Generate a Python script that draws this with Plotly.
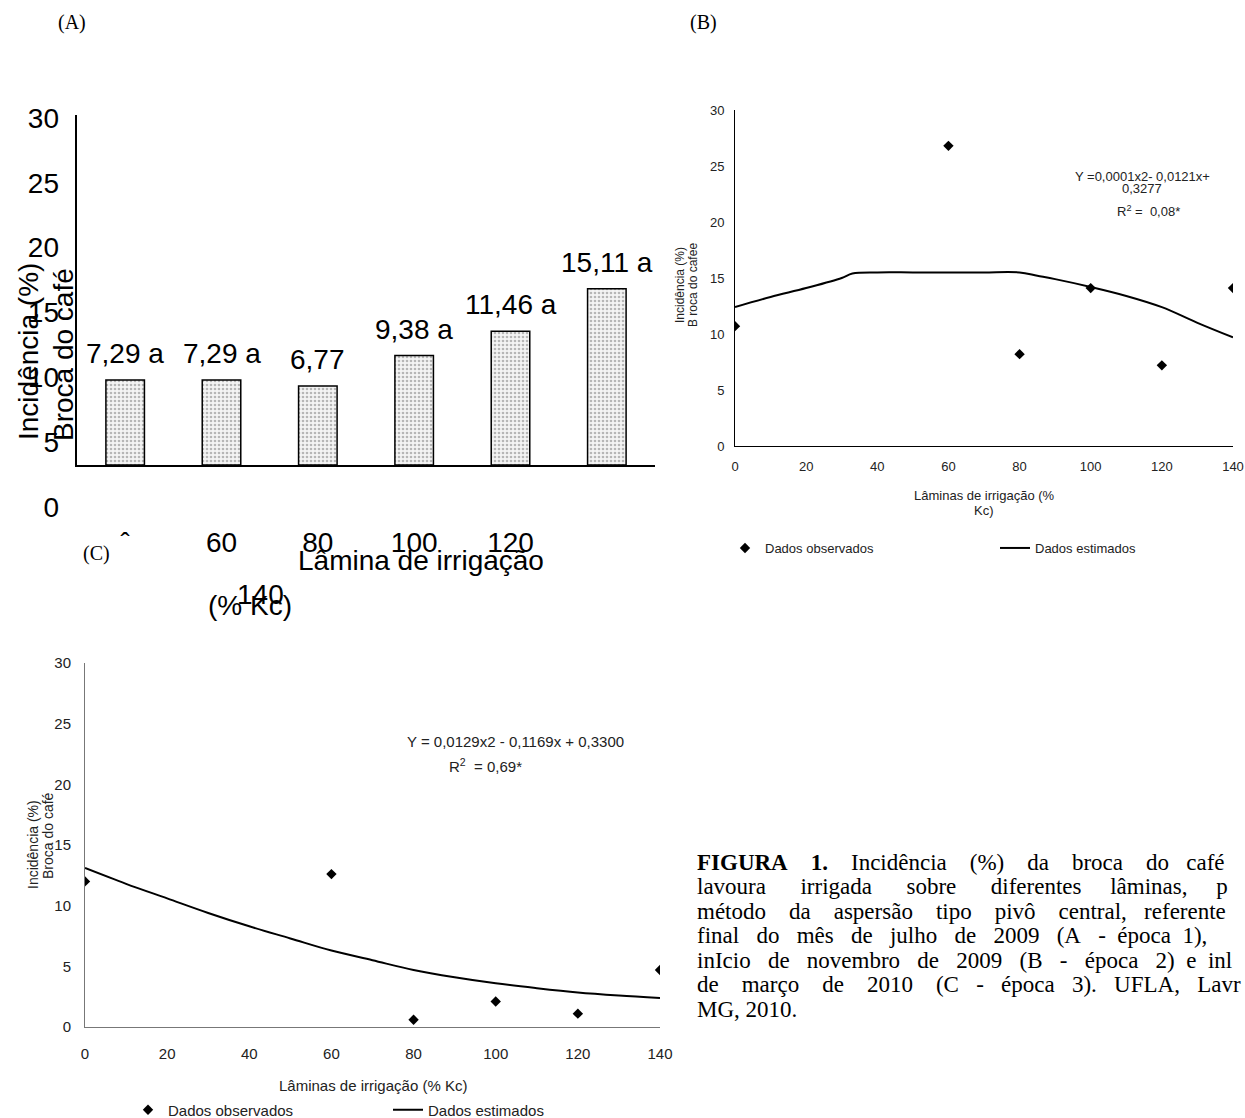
import plotly.graph_objects as go

W, H = 1245, 1118


def px(x):
    return x / W


def py(y):
    return 1 - y / H


# ---------------- data ----------------
# Panel A (bars)
a_categories = ["0", "60", "80", "100", "120", "140"]
a_values = [7.29, 7.29, 6.77, 9.38, 11.46, 15.11]
a_labels = ["7,29 a", "7,29 a", "6,77", "9,38 a", "11,46 a", "15,11 a"]
a_ticktext = ["ˆ", "60", "80", "100", "120", ""]
a_yticks = [0, 5, 10, 15, 20, 25, 30]

# Panel B (época 2)
b_x_obs = [0, 60, 80, 100, 120, 140]
b_y_obs = [10.7, 26.8, 8.2, 14.1, 7.2, 14.1]
b_x_est = [0, 10, 20, 30, 33, 40, 50, 60, 70, 80, 85, 90, 100, 110, 120, 130, 140]
b_y_est = [12.4, 13.3, 14.1, 15.0, 15.4, 15.5, 15.5, 15.5, 15.5, 15.5, 15.2, 14.9, 14.2, 13.4, 12.4, 11.0, 9.7]

# Panel C (época 3)
c_x_obs = [0, 60, 80, 100, 120, 140]
c_y_obs = [12.0, 12.6, 0.6, 2.1, 1.1, 4.7]
c_x_est = [0, 10, 20, 30, 40, 50, 60, 70, 80, 90, 100, 110, 120, 130, 140]
c_y_est = [13.1, 11.8, 10.6, 9.4, 8.3, 7.3, 6.3, 5.5, 4.7, 4.1, 3.6, 3.2, 2.85, 2.6, 2.4]

# Caption: words of each (justified) line and total number of spaces to spread
caption_words = [
    ["<b>FIGURA", "1.</b>", "Incidência", "(%)", "da", "broca", "do", "café"],
    ["lavoura", "irrigada", "sobre", "diferentes", "lâminas,", "p"],
    ["método", "da", "aspersão", "tipo", "pivô", "central,", "referente"],
    ["final", "do", "mês", "de", "julho", "de", "2009", "(A", "-", "época", "1),"],
    ["inIcio", "de", "novembro", "de", "2009", "(B", "-", "época", "2)", "e", "inl"],
    ["de", "março", "de", "2010", "(C", "-", "época", "3).", "UFLA,", "Lavr"],
    ["MG,", "2010."],
]
caption_spaces = [27, 28, 23, 28, 28, 31, 1]


def justify(words, nspaces):
    gaps = len(words) - 1
    base, extra = divmod(nspaces, gaps)
    out = words[0]
    for i, w in enumerate(words[1:]):
        n = base + (1 if i < extra else 0)
        out += "\u00a0" * n + w
    return out


SANS = "Liberation Sans, Arial, sans-serif"
SERIF = "Liberation Serif, Times New Roman, serif"
FA, FB, FC = 28, 13, 15

fig = go.Figure()

# ---------------- Panel A ----------------
fig.add_trace(go.Bar(
    x=a_categories, y=a_values, width=0.4,
    xaxis="x", yaxis="y", showlegend=False,
    marker=dict(color="#eeeeee", line=dict(color="black", width=1.5),
                pattern=dict(shape=".", fgcolor="#777777", bgcolor="#f4f4f4",
                             size=4, solidity=0.35)),
))
# empty trace for the shifted tick-label axis of panel A
fig.add_trace(go.Scatter(x=[None], y=[None], xaxis="x2", yaxis="y2",
                         showlegend=False, hoverinfo="skip"))

# ---------------- Panel B ----------------
fig.add_trace(go.Scatter(
    x=b_x_obs, y=b_y_obs, mode="markers", name="Dados observados",
    xaxis="x3", yaxis="y3", legend="legend2",
    marker=dict(symbol="diamond", size=8, color="black"),
))
fig.add_trace(go.Scatter(
    x=b_x_est, y=b_y_est, mode="lines", name="Dados estimados",
    xaxis="x3", yaxis="y3", legend="legend2",
    line=dict(color="black", width=2, shape="spline"),
))

# ---------------- Panel C ----------------
fig.add_trace(go.Scatter(
    x=c_x_obs, y=c_y_obs, mode="markers", name="Dados observados",
    xaxis="x4", yaxis="y4", legend="legend3",
    marker=dict(symbol="diamond", size=8, color="black"),
))
fig.add_trace(go.Scatter(
    x=c_x_est, y=c_y_est, mode="lines", name="Dados estimados",
    xaxis="x4", yaxis="y4", legend="legend3",
    line=dict(color="black", width=2, shape="spline"),
))

ann = []


def text_at(txt, x, y, size, family=SANS, color="black", xanchor="center",
            yanchor="middle", **kw):
    ann.append(dict(text=txt, x=px(x), y=py(y), xref="paper", yref="paper",
                    xanchor=xanchor, yanchor=yanchor, showarrow=False,
                    font=dict(family=family, size=size, color=color), **kw))


# Panel letters
text_at("(A)", 72, 22, 20, SERIF)
text_at("(B)", 704, 22, 20, SERIF)
text_at("(C)", 96, 553, 20, SERIF)

# Panel A bar value labels (category axis -> category index)
for i, (val, lab) in enumerate(zip(a_values, a_labels)):
    ann.append(dict(text=lab, x=i, y=val, xref="x", yref="y",
                    xanchor="center", yanchor="bottom",
                    yshift=9, showarrow=False,
                    font=dict(family=SANS, size=FA, color="black")))
# Panel A titles (overlapping as in the original)
text_at("Incidência (%)", 28, 352, FA, textangle=-90)
text_at("Broca do café", 63, 355, FA, textangle=-90)
text_at("Lâmina de irrigação", 421, 560, FA)
text_at("140", 260, 594, FA)
text_at("(% Kc)", 250, 605, FA)

# Panel B texts
GB = "#222"
text_at("Incidência (%)", 680, 285, 12, color=GB, textangle=-90)
text_at("B roca do cafee", 693, 285, 12, color=GB, textangle=-90)
text_at("Lâminas de irrigação (%", 984, 495, FB, color=GB)
text_at("Kc)", 984, 510, FB, color=GB)
text_at("Y =0,0001x2- 0,0121x+", 1142, 177, FB, color=GB)
text_at("0,3277", 1142, 189, FB, color=GB)
text_at("R<sup>2</sup> =  0,08*", 1148, 211, FB, color=GB)

# Panel C texts
GC = "#222"
text_at("Incidência (%)", 33, 845, 14, color=GC, textangle=-90)
text_at("Broca do café", 48, 836, 14, color=GC, textangle=-90)
text_at("Lâminas de irrigação (% Kc)", 373, 1085, FC, color=GC)
text_at("Y = 0,0129x2 - 0,1169x + 0,3300", 515, 741, FC, color=GC)
text_at("R<sup>2</sup>  = 0,69*", 485, 765, FC, color=GC)

# Caption
for i, (words, ns) in enumerate(zip(caption_words, caption_spaces)):
    text_at(justify(words, ns), 695, 862 + i * 24.5, 23, SERIF,
            xanchor="left", yanchor="middle")

fig.update_layout(
    width=W, height=H, margin=dict(l=0, r=0, t=0, b=0, autoexpand=False),
    paper_bgcolor="white", plot_bgcolor="rgba(0,0,0,0)",
    annotations=ann,
    # Panel A axes
    xaxis=dict(domain=[px(77), px(655)], anchor="y", type="category",
               categoryorder="array", categoryarray=a_categories,
               range=[-0.5, 5.5], showline=True, linecolor="black", linewidth=2,
               ticks="", tickmode="array", tickvals=a_categories, ticktext=a_ticktext,
               ticklabelstandoff=51, showgrid=False, zeroline=False,
               tickfont=dict(family=SANS, size=FA, color="black")),
    yaxis=dict(domain=[py(465), py(115)], anchor="x", range=[0, 30],
               showline=True, linecolor="black", linewidth=2, ticks="",
               showticklabels=False, showgrid=False, zeroline=False),
    xaxis2=dict(domain=[px(60), px(655)], anchor="y2", visible=False, range=[0, 1]),
    yaxis2=dict(domain=[py(507), py(118)], anchor="x2", range=[0, 30],
                tickvals=a_yticks, showline=False, ticks="", showgrid=False, zeroline=False,
                tickfont=dict(family=SANS, size=FA, color="black")),
    # Panel B axes
    xaxis3=dict(domain=[px(735), px(1233)], anchor="y3", range=[0, 140], dtick=20,
                showline=True, linecolor="black", linewidth=1, ticks="",
                showgrid=False, zeroline=False, ticklabelstandoff=8,
                tickfont=dict(family=SANS, size=FB, color=GB)),
    yaxis3=dict(domain=[py(446), py(110)], anchor="x3", range=[0, 30], dtick=5,
                showline=True, linecolor="black", linewidth=1, ticks="",
                showgrid=False, zeroline=False, ticklabelstandoff=7,
                tickfont=dict(family=SANS, size=FB, color=GB)),
    # Panel C axes
    xaxis4=dict(domain=[px(85), px(660)], anchor="y4", range=[0, 140], dtick=20,
                showline=True, linecolor="#777", linewidth=1, ticks="",
                showgrid=False, zeroline=False, ticklabelstandoff=13,
                tickfont=dict(family=SANS, size=FC, color=GC)),
    yaxis4=dict(domain=[py(1027), py(663)], anchor="x4", range=[0, 30], dtick=5,
                showline=True, linecolor="#777", linewidth=1, ticks="",
                showgrid=False, zeroline=False, ticklabelstandoff=10,
                tickfont=dict(family=SANS, size=FC, color=GC)),
    legend2=dict(x=px(725), y=py(548), xanchor="left", yanchor="middle",
                 orientation="h", entrywidth=225, entrywidthmode="pixels",
                 itemwidth=30, bgcolor="rgba(0,0,0,0)",
                 font=dict(family=SANS, size=FB, color=GB)),
    legend3=dict(x=px(128), y=py(1110), xanchor="left", yanchor="middle",
                 orientation="h", entrywidth=215, entrywidthmode="pixels",
                 itemwidth=30, bgcolor="rgba(0,0,0,0)",
                 font=dict(family=SANS, size=FC, color=GC)),
)

fig.write_html("out.html", config={"displayModeBar": False},
               post_script="document.body.style.margin='0';document.body.style.overflow='hidden';")
